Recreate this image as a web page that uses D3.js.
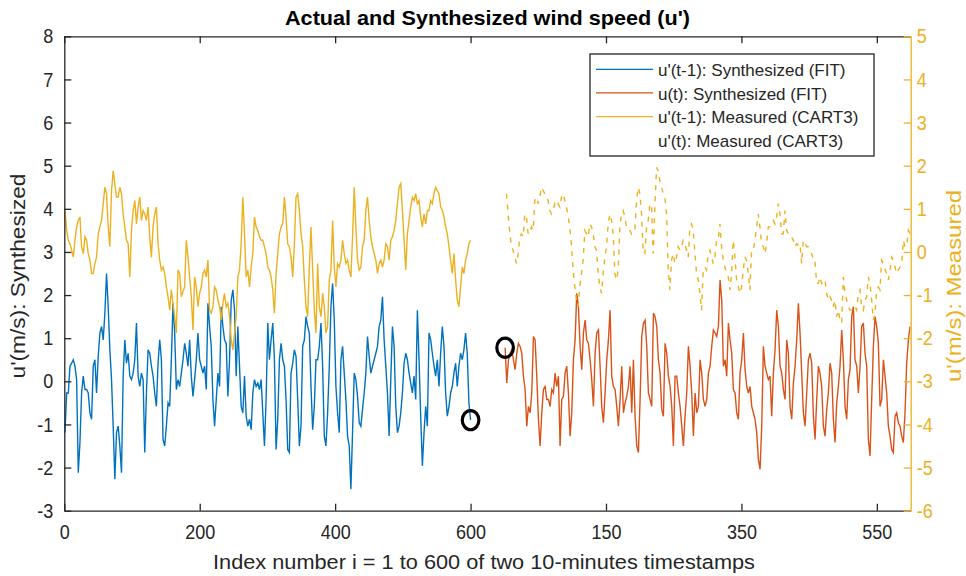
<!DOCTYPE html>
<html>
<head>
<meta charset="utf-8">
<script src="https://cdn.jsdelivr.net/npm/d3@7"></script>
<style>
  html, body { margin: 0; padding: 0; background: #fff; }
  svg text { font-family: "Liberation Sans", Arial, Helvetica, sans-serif; }
  .tick text { transform-box: fill-box; transform-origin: center; transform: scaleY(1.14); }
</style>
</head>
<body>
<svg id="chart" width="966" height="576"></svg>
<script>
// ---- data -------------------------------------------------------------
// u'(t-1) synthesized (FIT), evenly spaced samples over i = 1..600, m/s (left axis)
const synthPrev = [
  -1.19, -0.27, -0.27, 0.35, 0.42, 0.5, 0.35, 0.04, -2.12, -1.42,
  -0.27, 0.12, -0.19, -0.19, -0.27, -0.73, -0.88, 0.35, 0.5, -0.27,
  0.58, 1.12, 1.27, 0.96, 1.58, 2.5, 1.73, 0.73, 0.04, -1.04,
  -2.27, -1.19, -1.04, -1.5, -2.12, 0.12, 0.96, 0.42, 0.65, 0.12,
  0.04, 0.19, 0.5, 1.35, 0.12, -0.12, 0.19, 0.04, -1.65, -0.27,
  0.73, 0.65, 0.35, 0.12, -0.27, -0.58, 0.42, 0.96, 0.5, -1.35,
  -1.5, -1.04, -0.5, -0.58, 0.5, 1.81, 1.12, -0.19, 0.04, -0.12,
  0.19, 0.5, 0.88, 0.65, 0.35, 0.96, 0.12, -0.35, 0.04, 0.5,
  1.12, 0.5,
  0.35, 0.19, 0.35, -0.19, 1.81, 1.27, 0.81, -0.42, -1.04, -0.42,
  0.19, -0.12, 1.73, 1.27, 0.96, 0.88, -0.35, 0.5, 1.88, 2.12,
  1.65, 0.12, 1.27, 0.35, -0.58, -0.73, 0.12, -0.81, -1.04, -0.88,
  -1.12, -0.27, 0.04, -0.12, -0.04, -0.19, 0.04, -0.73, -1.5, -0.42,
  1.35, 0.5, 0.96, 1.35, 0.5, -1.58, -0.88, 0.5, 0.88, 0.5,
  0.35, -0.42, -1.58, -1.65, 0.19, 0.42, 0.73, 0.58, -0.42, -1.5,
  -1.04, 0.81, 0.96, 1.5, 1.27, 1.12, -0.12, -1.12, -0.58, 0.5,
  0.5, 0.81, 1.35, 0.35, -1.27, -1.5, -0.73, 0.35, 1.73, 2.27,
  1.42,
  -0.12, -0.73, -1.19, 0.5, 0.81, 0.19, -0.42, -1.27, -1.5, -2.5,
  -1.19, 0.19, 0.04, -0.35, -0.96, -1.04, -0.65, -0.27, 0.19, 1.04,
  0.58, 0.19, 0.35, 0.5, 0.65, 0.81, 1.27, 1.42, 1.96, 0.96,
  0.35, -0.27, -1.27, 0.04, 1.27, 0.81, -0.58, -1.19, -1.04, -0.73,
  -0.27, 0.42, 0.65, 0.5, 0.19, -0.04, -0.27, 0.12, -0.42, 1.65,
  0.5, -0.81, -1.96, -1.19, -0.58, -1.04, 1.12, 0.96, 0.65, 0.35,
  0.12, 0.5, -0.12, 0.65, 1.27, 0.81, -0.27, -0.81, -0.58, -0.27,
  -0.12, 0.19, 0.42, -0.12, 0.35, 0.65, 0.5, 0.73, 1.12, 0.65,
  -0.5, -0.9
];

// u(t) synthesized (FIT), second block of timestamps, m/s (left axis)
const synthCur = [
  0.78, -0.04, 0.5, 0.65, 0.73, 0.5, 0.27, 0.65, 0.88, 0.81,
  0.65, 0.12, -0.19, -1.04, -0.58, -0.73, -0.27, 1.04, 0.96, 0.12,
  -0.88, -1.5, -0.73, -0.19, -0.12, -0.42, -0.42, -0.58, -0.19, -0.27,
  0.19, -0.12, 0.12, -1.5, -0.42, -0.35, 0.19, 0.35, -0.27, -1.27,
  -0.73, 0.5, 0.96, 2.04, 1.73, 0.81, 0.27, 1.12, 1.42, 0.96,
  0.88, 0.5, 0.04, -0.58, 0.65, 1.12, 1.19, 0.35, -0.58, -0.96,
  -0.27, 0.5, 0.96, 1.65, 0.12, -0.12, -0.19, -0.58, -1.04, -0.42,
  0.35, -0.73, -0.5, -0.35, -0.12, 0.35, -0.73, 0.5,
  -0.81, -1.5, -1.65, -0.42, 1.04, 1.35, 1.42, 0.81, -0.27, -0.42,
  -0.58, 1.58, 1.5, 1.27, 0.5, 0.19, -0.65, -0.81, 0.88, 0.65,
  0.12, -0.12, -0.58, -1.5, 0.12, 0.12, -0.27, -0.58, -1.04, -1.5,
  -0.81, -0.27, 0.81, 0.35, -0.27, -1.27, -0.27, -0.73, -0.58, 0.5,
  0.19, -0.42, -0.58, -0.42, 0.19, 0.35, 0.81, 1.19, 1.12, 1.04,
  1.27, 2.35, 1.88, 0.35, 0.5, 0.12, 1.35, 0.96, 0.65, -0.19,
  -0.27, -0.73, -0.88, 0.19, 0.5, 1.12, 0.27, -0.12, -0.27, -0.12,
  -0.58, -0.73, -0.88, -1.19, -1.81, -2.04, -1.04, 0.81, 0.35, 0.19,
  0.04,
  0.12, -0.81, 0.19, 0.73, 1.65, 1.27, 0.35, 0.19, -0.19, -0.42,
  0.96, 0.65, -0.58, -0.88, -0.04, 0.35, 0.96, 1.81, 1.12, 0.19,
  -0.73, -1.04, -0.27, 0.5, 0.65, 0.42, -0.81, -1.35, -0.42, 0.35,
  0.19, -0.12, -1.04, -1.27, -0.65, -0.27, 0.42, 0.19, -0.88, -1.42,
  -0.5, -0.12, 0.35, 1.19, 0.5, -0.58, -0.88, 0.04, 0.27, 1.5,
  1.73, 0.5, 0.35, -0.27, 0.35, 1.27, 1.35, 0.65, 0.35, -1.35,
  -1.73, -0.42, 0.81, 1.5, 1.27, 0.88, -0.58, -0.42, 0.5, 0.12,
  -0.27, -1.04, -1.27, -1.58, -1.65, -0.81, -0.73, -0.96, -1.04, -1.27,
  -1.42, -0.73, 0.42, 0.96, 1.27
];

// u'(t-1) measured (CART3), evenly spaced samples over i = 1..600, m/s (right axis)
const measPrev = [
  0.96, 0.5, 0.27, 0.19, 0.04, -0.12, 0.27, 0.58, 0.73, 0.81,
  0.12, -0.04, 0.35, 0.27, -0.04, -0.19, -0.5, -0.5, -0.27, -0.12,
  0.42, 0.58, 0.73, 1.12, 1.5, 1.35, 0.58, 0.12, 1.42, 1.88,
  1.58, 1.27, 1.27, 1.5, 1.35, 0.88, 0.58, 0.27, 0.19, -0.58,
  0.5, 0.96, 1.19, 0.65, 1.04, 1.27, 0.73, 0.96, 0.88, 0.73,
  1.04, 0.35, -0.12, 0.58, 0.88, 1.04, 0.19, -0.19, -0.42, -0.35,
  -0.5, -0.81, -1.04, -1.35, -0.88, -1.19, -1.5, -1.88, -0.42, -0.5,
  -1.04, -0.92, -0.81, 0.27, -0.12, -0.58, -1.04, -1.81, -0.58, -0.81,
  -1.27, -0.96,
  -0.81, -0.5, -0.42, -0.58, -0.19, -1.35, -1.42, -1.27, -0.81, -0.88,
  -1.12, -1.27, -1.58, -1.19, -0.96, -1.27, -1.19, -1.5, -2.04, -2.27,
  -1.88, -1.5, -0.58, -0.42, 0.19, 1.27, 0.42, -0.58, -0.42, -0.81,
  -0.35, -0.04, 0.81, 0.58, 0.5, 0.35, 0.27, 0.27, 0.12, -0.04,
  -0.35, -0.42, -0.58, -0.88, -1.42, -0.5, -0.04, 0.42, 0.58, 0.65,
  1.27, 0.81, 0.19, 0.12, -0.12, -0.58, 0.19, 1.27, 1.35, 0.96,
  0.42, 0.12, -0.65, -1.27, -1.5, -0.35, 0.58, -0.42, -1.35, -1.88,
  -0.27, -1.27, -1.5, -0.96, -1.27, -1.88, -1.73, -0.65, -0.42, 0.73,
  -0.35,
  -0.81, -0.27, -0.35, -0.19, 0.27, -0.04, -0.27, -0.19, -0.42, -0.58,
  0.35, 1.5, 0.58, -0.19, -0.42, -0.35, 0.12, 0.27, 0.96, 1.27,
  0.73, 0.35, 0.12, -0.04, -0.19, -0.5, -0.27, -0.19, -0.35, -0.19,
  0.19, 0.12, -0.19, 0.27, 0.35, 0.5, 0.73, 1.12, 1.5, 1.58,
  0.96, 0.27, -0.42, 0.42, 0.73, 1.04, 1.27, 1.19, 1.35, 1.12,
  1.19, 0.81, 0.58, 0.88, 0.65, 0.96, 0.96, 1.19, 1.12, 1.35,
  1.5, 1.42, 1.35, 1.04, 0.96, 0.81, 0.58, 0.42, 0.12, -0.19,
  -0.5, -0.04, -0.65, -1.12, -1.27, -0.81, -0.35, -0.5, -0.19, -0.04,
  0.19, 0.27
];

// u'(t) measured (CART3), second block of timestamps, m/s (right axis)
const measCur = [
  1.35, 0.88, 0.46, 0.12, 0.04, -0.12, -0.27, -0.04, 0.35, 0.42,
  0.35, 0.88, 0.81, 0.42, 0.42, 0.58, 0.5, 1.19, 1.27, 1.12,
  1.27, 1.5, 1.42, 1.35, 1.27, 1.19, 0.96, 0.88, 0.96, 1.12,
  1.04, 1.12, 1.04, 1.27, 1.35, 1.19, 1.04, 0.81, 0.58, 0.12,
  -0.42, -0.81, -1.12, -1.27, -0.81, -0.5, -0.19, 0.5, 0.42, 0.35,
  0.65, 0.58, 0.42, 0.12, 0.04, -0.5, -0.81, -0.96, -0.5, -0.12,
  0.12, 0.65, 0.88, 0.73, 0.42, -0.5, -0.65, -0.42, 0.58, 0.88,
  0.96, 0.81, 0.58, 0.5, 0.5, 0.42, 0.5,
  0.5, 1.19, 1.5, 1.35, 0.88, -0.04, -0.04, 0.58, 0.73, 1.12,
  1.04, -0.04, 1.04, 1.96, 1.88, 1.65, 1.5, 1.35, 1.27, 0.88,
  -0.42, -0.88, -0.19, -0.04, -0.27, -0.12, 0.12, 0.04, 0.12, 0.27,
  0.19, 0.04, -0.12, 0.58, 0.65, 0.5, -0.04, -0.5, -0.65, -0.96,
  -1.35, -0.42, -0.35, -0.42, -0.04, 0.04, -0.12, -0.27, -0.12, 0.27,
  0.27, 0.65, 0.12, -0.19, -0.35, -0.5, -0.58, -0.88, -0.5, 0.27,
  -0.12, -0.65, -0.81, -0.96, -0.81, -0.42, -0.12, -0.19, -0.5, -0.88,
  0.04, 0.04, 0.27, 0.58, 0.88, 0.58, 0.19, 0.12, -0.04, 0.19,
  0.58,
  0.58, 0.65, 0.73, 0.65, 0.81, 1.12, 0.88, 0.42, 0.42, 0.96,
  0.5, 0.42, 0.42, 0.35, 0.27, 0.12, 0.19, 0.15, 0.19, -0.27,
  0.27, 0.19, 0.12, 0.12, 0.04, -0.04, -0.19, -0.19, -0.73, -0.73,
  -0.58, -0.73, -0.65, -0.65, -0.96, -1.12, -1.04, -1.12, -1.27, -1.12,
  -1.5, -1.35, -1.58, -1.65, -0.58, -0.96, -1.12, -1.27, -1.35, -1.35,
  -1.27, -1.27, -1.35, -0.96, -0.88, -1.27, -1.35, -1.12, -1.04, -0.58,
  -0.73, -1.12, -1.58, -1.42, -0.88, -0.81, -0.88, -0.19, -0.27, -0.42,
  -0.5, -0.65, -0.42, -0.12, -0.19, -0.35, -0.5, -0.42, -0.35, -0.27,
  0.27, 0.12, 0.12, 0.5, 0.42
];

// index spans on the shared x axis covered by each series
const spanSynthPrev = [1, 600];
const spanMeasPrev = [1, 600];
const spanSynthCur = [651, 1249];
const spanMeasCur = [653, 1249];

// axis ticks
const xTickValues = [0, 200, 400, 600, 800, 1000, 1200];
const xTickLabels = ["0", "200", "400", "600", "150", "350", "550"];
const leftTicks = [-3, -2, -1, 0, 1, 2, 3, 4, 5, 6, 7, 8];
const rightTicks = [-6, -5, -4, -3, -2, -1, 0, 1, 2, 3, 4, 5];

// texts
const titleText = "Actual and Synthesized wind speed (u')";
const xLabelText = "Index number i = 1 to 600 of two 10-minutes timestamps";
const yLeftText = "u'(m/s): Synthesized";
const yRightText = "u'(m/s): Measured";
const legendLabels = [
  "u'(t-1): Synthesized (FIT)",
  "u(t): Synthesized (FIT)",
  "u'(t-1): Measured (CART3)",
  "u'(t): Measured (CART3)"
];

// ---- drawing ----------------------------------------------------------
const W = 966, H = 576;
const plot = { left: 64.3, right: 910.7, top: 36.3, bottom: 510.7 };
const C = { blue: "#0072BD", orange: "#D95319", yellow: "#EDB120", axis: "#262626" };

const svg = d3.select("#chart");
svg.append("rect").attr("width", W).attr("height", H).attr("fill", "#fff");

const x = d3.scaleLinear().domain([0, 1250]).range([plot.left, plot.right]);
const yL = d3.scaleLinear().domain([-3, 8]).range([plot.bottom, plot.top]);
const yR = d3.scaleLinear().domain([-6, 5]).range([plot.bottom, plot.top]);

svg.append("defs").append("clipPath").attr("id", "plotClip")
  .append("rect")
  .attr("x", plot.left).attr("y", plot.top)
  .attr("width", plot.right - plot.left).attr("height", plot.bottom - plot.top);

// samples of a series are spread evenly over its index span
function points(values, span, yScale) {
  const pos = d3.scaleLinear().domain([0, values.length - 1]).range(span);
  return values.map((v, i) => [x(pos(i)), yScale(v)]);
}
const line = d3.line();

const lines = svg.append("g").attr("clip-path", "url(#plotClip)");
lines.append("path")
  .attr("d", line(points(synthPrev, spanSynthPrev, yL)))
  .attr("fill", "none").attr("stroke", C.blue).attr("stroke-width", 1.4);
lines.append("path")
  .attr("d", line(points(synthCur, spanSynthCur, yL)))
  .attr("fill", "none").attr("stroke", C.orange).attr("stroke-width", 1.4);
lines.append("path")
  .attr("d", line(points(measPrev, spanMeasPrev, yR)))
  .attr("fill", "none").attr("stroke", C.yellow).attr("stroke-width", 1.4);
lines.append("path")
  .attr("d", line(points(measCur, spanMeasCur, yR)))
  .attr("fill", "none").attr("stroke", C.yellow).attr("stroke-width", 1.4)
  .attr("stroke-dasharray", "5,6");

// markers at the junction between the two blocks
const junction = [
  [x(spanSynthPrev[1]), yL(synthPrev[synthPrev.length - 1])],
  [x(spanSynthCur[0]), yL(synthCur[0])]
];
svg.append("g").selectAll("ellipse").data(junction).join("ellipse")
  .attr("cx", d => d[0]).attr("cy", d => d[1])
  .attr("rx", 8.3).attr("ry", 9.6)
  .attr("fill", "none").attr("stroke", "#000").attr("stroke-width", 3.2);

// axes
function styleAxis(g, color) {
  g.attr("font-size", null).attr("font-family", null);
  g.selectAll("path, line").attr("stroke", color).attr("stroke-width", 1.3);
  g.selectAll("text").attr("fill", color).attr("font-size", 18);
}

svg.append("g").attr("transform", `translate(0,${plot.top})`)
  .call(d3.axisTop(x).tickValues(xTickValues).tickFormat("")
    .tickSizeInner(-7).tickSizeOuter(0))
  .call(g => styleAxis(g, C.axis));

svg.append("g").attr("transform", `translate(0,${plot.bottom})`)
  .call(d3.axisBottom(x).tickValues(xTickValues)
    .tickFormat((d, i) => xTickLabels[i])
    .tickSizeInner(-7).tickSizeOuter(0).tickPadding(14.6))
  .call(g => styleAxis(g, C.axis));

svg.append("g").attr("transform", `translate(${plot.left},0)`)
  .call(d3.axisLeft(yL).tickValues(leftTicks).tickFormat(d => String(d))
    .tickSizeInner(-7).tickSizeOuter(0).tickPadding(11))
  .call(g => styleAxis(g, C.axis));

svg.append("g").attr("transform", `translate(${plot.right},0)`)
  .call(d3.axisRight(yR).tickValues(rightTicks).tickFormat(d => String(d))
    .tickSizeInner(-7).tickSizeOuter(0).tickPadding(6))
  .call(g => styleAxis(g, C.yellow));

// title and axis labels
svg.append("text")
  .attr("x", (plot.left + plot.right) / 2).attr("y", 25)
  .attr("text-anchor", "middle").attr("font-size", 21).attr("font-weight", "bold")
  .attr("fill", "#000")
  .attr("textLength", 405).attr("lengthAdjust", "spacingAndGlyphs")
  .text(titleText);

svg.append("text")
  .attr("x", 484).attr("y", 569)
  .attr("text-anchor", "middle").attr("font-size", 20.5).attr("fill", C.axis)
  .attr("textLength", 542).attr("lengthAdjust", "spacingAndGlyphs")
  .text(xLabelText);

svg.append("text")
  .attr("transform", "translate(25,276) rotate(-90)")
  .attr("text-anchor", "middle").attr("font-size", 20.5).attr("fill", C.axis)
  .attr("textLength", 205).attr("lengthAdjust", "spacingAndGlyphs")
  .text(yLeftText);

svg.append("text")
  .attr("transform", "translate(961,286) rotate(-90)")
  .attr("text-anchor", "middle").attr("font-size", 20.5).attr("fill", C.yellow)
  .attr("textLength", 192).attr("lengthAdjust", "spacingAndGlyphs")
  .text(yRightText);

// legend
const legend = svg.append("g");
legend.append("rect")
  .attr("x", 590).attr("y", 54).attr("width", 284).attr("height", 102)
  .attr("fill", "#fff").attr("stroke", C.axis).attr("stroke-width", 1.3);
const legendColors = [C.blue, C.orange, C.yellow, null];
const rowY = d3.scaleLinear().domain([0, 3]).range([76, 146.7]);
const rows = legend.selectAll("g.row").data(legendLabels).join("g").attr("class", "row");
rows.filter((d, i) => legendColors[i] !== null).append("line")
  .attr("x1", 596).attr("x2", 653)
  .attr("y1", (d, i) => rowY(i) - 6.6).attr("y2", (d, i) => rowY(i) - 6.6)
  .attr("stroke", (d, i) => legendColors[i]).attr("stroke-width", 1.3);
rows.append("text")
  .attr("x", 658).attr("y", (d, i) => rowY(i))
  .attr("font-size", 17).attr("fill", C.axis)
  .text(d => d);
</script>
</body>
</html>
